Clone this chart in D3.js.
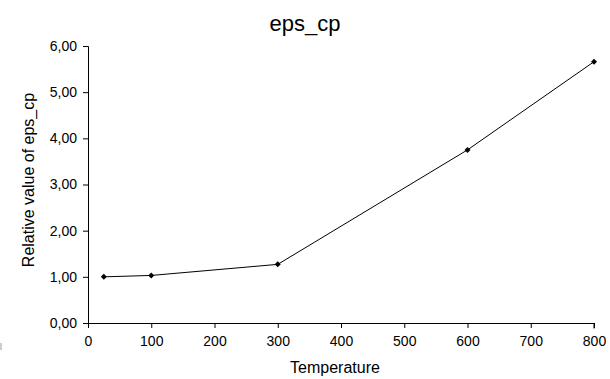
<!DOCTYPE html>
<html>
<head>
<meta charset="utf-8">
<script src="https://cdn.jsdelivr.net/npm/d3@7"></script>
<style>
  html, body { margin: 0; padding: 0; background: #fff; }
  svg { display: block; }
  text { font-family: "Liberation Sans", Arial, sans-serif; fill: #000; }
</style>
</head>
<body>
<script>
// Relative value of eps_cp versus temperature
const temperatures = [25, 100, 300, 600, 800];
const relativeValues = [1.00, 1.03, 1.27, 3.75, 5.66];
const xTicks = [0, 100, 200, 300, 400, 500, 600, 700, 800];
const yTicks = [0, 1, 2, 3, 4, 5, 6];

const W = 610, H = 379;
const margin = { top: 46, right: 16, bottom: 56, left: 88 };

const svg = d3.select("body").append("svg")
  .attr("width", W).attr("height", H);

const x = d3.scaleLinear().domain([0, 800]).range([margin.left, W - margin.right]);
const y = d3.scaleLinear().domain([0, 6]).range([H - margin.bottom, margin.top]);

const commaLocale = d3.formatLocale({ decimal: ",", thousands: ".", grouping: [3], currency: ["", ""] });
const fmt = commaLocale.format(".2f");

// Axes
const xAxis = svg.append("g")
  .attr("transform", `translate(0,${y(0)})`)
  .call(d3.axisBottom(x).tickValues(xTicks).tickSize(5).tickPadding(8).tickFormat(d3.format("d")));
const yAxis = svg.append("g")
  .attr("transform", `translate(${x(0)},0)`)
  .call(d3.axisLeft(y).tickValues(yTicks).tickSize(5).tickPadding(6).tickFormat(fmt));

[xAxis, yAxis].forEach(g => {
  g.select(".domain").attr("stroke", "#000").attr("stroke-width", 1);
  g.selectAll(".tick line").attr("stroke", "#000");
  g.selectAll(".tick text").attr("font-size", 14).attr("font-family", "Liberation Sans, Arial, sans-serif").attr("fill", "#000");
});
// the x axis line only spans the plot, no outer ticks beyond
xAxis.select(".domain").attr("d", `M${x(0)},0.5H${x(800)}V5.5`);

// Series line
const line = d3.line().x((d, i) => x(temperatures[i])).y(d => y(d));
svg.append("path")
  .datum(relativeValues)
  .attr("fill", "none")
  .attr("stroke", "#000")
  .attr("stroke-width", 1)
  .attr("d", line);

// Diamond markers
svg.append("g").selectAll("path")
  .data(relativeValues)
  .join("path")
  .attr("transform", (d, i) => `translate(${x(temperatures[i])},${y(d)})`)
  .attr("d", "M0,-3L3,0L0,3L-3,0Z")
  .attr("fill", "#000");

// Titles
svg.append("text")
  .attr("x", W / 2).attr("y", 31)
  .attr("text-anchor", "middle")
  .attr("font-size", 22)
  .text("eps_cp");

svg.append("text")
  .attr("x", (x(0) + x(800)) / 2 - 6).attr("y", 373)
  .attr("text-anchor", "middle")
  .attr("font-size", 16)
  .text("Temperature");

svg.append("text")
  .attr("transform", `translate(34,180) rotate(-90)`)
  .attr("text-anchor", "middle")
  .attr("font-size", 16)
  .text("Relative value of eps_cp");

// faint edge of the chart frame at the lower left
svg.append("line")
  .attr("x1", 1).attr("x2", 1).attr("y1", 343).attr("y2", 350)
  .attr("stroke", "#bbb").attr("stroke-width", 1.5);
</script>
</body>
</html>
